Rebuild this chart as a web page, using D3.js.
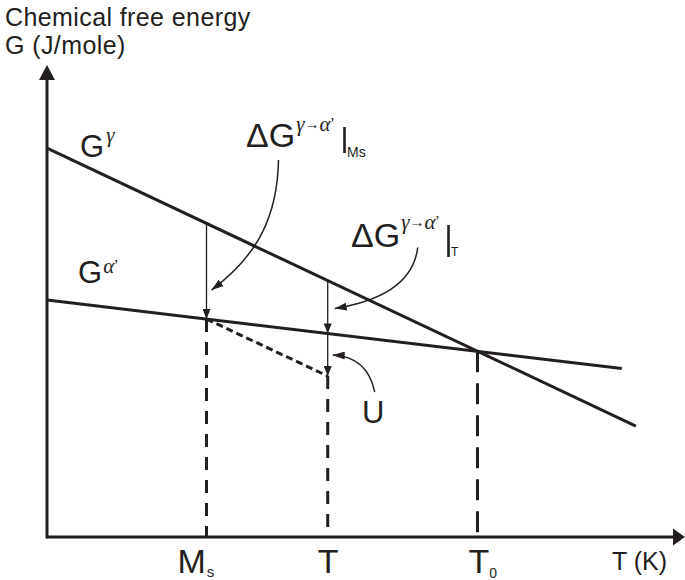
<!DOCTYPE html>
<html>
<head>
<meta charset="utf-8">
<script src="https://cdn.jsdelivr.net/npm/d3@7"></script>
<style>
  html, body { margin: 0; padding: 0; background: #fff; }
  svg { display: block; }
</style>
</head>
<body>
<svg id="chart" width="685" height="580"></svg>
<script>
// Axis domains (arbitrary units)
const tempDomain = [0, 100];
const energyDomain = [0, 100];

// Free-energy lines of the two phases: end-point temperatures and energies
const gammaT = [0, 92.3];
const gammaG = [82.4, 23.5];
const alphaT = [0, 90.1];
const alphaG = [50.2, 35.7];

// Characteristic temperatures on the T axis
const msTemp = 25;
const tTemp = 44;
// Energy level U reached at T along the path that starts at M_s
const uEnergy = 34.1;

const INK = "#231f20";
const SANS = "'Liberation Sans', Arial, Helvetica, sans-serif";
const SERIF = "'Liberation Serif', 'Times New Roman', serif";

const svg = d3.select("#chart");
const x = d3.scaleLinear().domain(tempDomain).range([47, 685]);
const y = d3.scaleLinear().domain(energyDomain).range([537, 65]);

// linear free-energy function through two end points
const lineFn = (ts, gs) => d3.scaleLinear().domain(ts).range(gs);
const gGamma = lineFn(gammaT, gammaG);
const gAlpha = lineFn(alphaT, alphaG);

// T0: where the two free-energy lines cross
const slopeG = (gammaG[1] - gammaG[0]) / (gammaT[1] - gammaT[0]);
const slopeA = (alphaG[1] - alphaG[0]) / (alphaT[1] - alphaT[0]);
const t0Temp = (alphaG[0] - gammaG[0]) / (slopeG - slopeA);
const g0 = gGamma(t0Temp);

// Arrowhead markers
const defs = svg.append("defs");
function addMarker(id, len, wid) {
  defs.append("marker")
    .attr("id", id)
    .attr("viewBox", `0 0 ${len} ${wid}`)
    .attr("refX", len).attr("refY", wid / 2)
    .attr("markerWidth", len).attr("markerHeight", wid)
    .attr("markerUnits", "userSpaceOnUse")
    .attr("orient", "auto")
    .append("path")
    .attr("d", `M0,0L${len},${wid / 2}L0,${wid}Z`)
    .attr("fill", INK);
}
addMarker("headThin", 10, 8);
addMarker("headCurve", 12, 8);

const line = d3.line();

// Axes with arrow tips
const axes = svg.append("g");
axes.append("path")
  .attr("d", line([[x(0), y(0)], [x(tempDomain[1]) - 10, y(0)]]))
  .attr("stroke", INK).attr("stroke-width", 3).attr("fill", "none");
axes.append("path")
  .attr("d", `M${x(tempDomain[1])},${y(0)}L${x(tempDomain[1]) - 12},${y(0) - 8.5}L${x(tempDomain[1]) - 12},${y(0) + 8.5}Z`)
  .attr("fill", INK);
axes.append("path")
  .attr("d", line([[x(0), y(0) + 1.5], [x(0), y(energyDomain[1]) + 12]]))
  .attr("stroke", INK).attr("stroke-width", 3).attr("fill", "none");
axes.append("path")
  .attr("d", `M${x(0)},${y(energyDomain[1])}L${x(0) - 8},${y(energyDomain[1]) + 15}L${x(0) + 8},${y(energyDomain[1]) + 15}Z`)
  .attr("fill", INK);

// Free-energy lines
const plot = svg.append("g");
plot.append("path")
  .attr("d", line(gammaT.map((t, i) => [x(t), y(gammaG[i])])))
  .attr("stroke", INK).attr("stroke-width", 3).attr("fill", "none");
plot.append("path")
  .attr("d", line(alphaT.map((t, i) => [x(t), y(alphaG[i])])))
  .attr("stroke", INK).attr("stroke-width", 3).attr("fill", "none");

// Dashed drops to the temperature axis
const drops = [
  { t: msTemp, g: gAlpha(msTemp), dash: "13,10", end: 0 },
  { t: tTemp, g: uEnergy, dash: "13,10", end: 0 },
  { t: t0Temp, g: g0, dash: "21,11", end: 0 }
];
plot.selectAll("path.drop").data(drops).join("path")
  .attr("class", "drop")
  .attr("d", d => line([[x(d.t), y(d.g)], [x(d.t), y(d.end)]]))
  .attr("stroke", INK).attr("stroke-width", 3)
  .attr("stroke-dasharray", d => d.dash)
  .attr("fill", "none");

// Dashed path from M_s on the alpha' line to U at T
plot.append("path")
  .attr("d", line([[x(msTemp), y(gAlpha(msTemp))], [x(tTemp), y(uEnergy)]]))
  .attr("stroke", INK).attr("stroke-width", 3)
  .attr("stroke-dasharray", "7,4").attr("fill", "none");

// Thin vertical driving-force arrows
const drives = [
  { t: msTemp, from: gGamma(msTemp), to: gAlpha(msTemp) },
  { t: tTemp, from: gGamma(tTemp), to: gAlpha(tTemp) },
  { t: tTemp, from: gAlpha(tTemp), to: uEnergy }
];
plot.selectAll("path.drive").data(drives).join("path")
  .attr("class", "drive")
  .attr("d", d => line([[x(d.t), y(d.from)], [x(d.t), y(d.to)]]))
  .attr("stroke", INK).attr("stroke-width", 1.3)
  .attr("fill", "none")
  .attr("marker-end", "url(#headThin)");

// Curved pointer arrows from the labels
const pMs = [x(msTemp), y(gAlpha(msTemp))];
const pT = [x(tTemp), y(gAlpha(tTemp))];
const pU = [x(tTemp), y(uEnergy)];
const pointers = [
  `M${pMs[0] + 72},${pMs[1] - 159} C${pMs[0] + 71},${pMs[1] - 104} ${pMs[0] + 52},${pMs[1] - 64} ${pMs[0] + 5},${pMs[1] - 29}`,
  `M${pT[0] + 90},${pT[1] - 86} C${pT[0] + 86},${pT[1] - 53} ${pT[0] + 57},${pT[1] - 33} ${pT[0] + 7},${pT[1] - 25}`,
  `M${pU[0] + 47},${pU[1] + 16} C${pU[0] + 42},${pU[1] - 8} ${pU[0] + 27},${pU[1] - 20} ${pU[0] + 5},${pU[1] - 21}`
];
plot.selectAll("path.pointer").data(pointers).join("path")
  .attr("class", "pointer")
  .attr("d", d => d)
  .attr("stroke", INK).attr("stroke-width", 1.5)
  .attr("fill", "none")
  .attr("marker-end", "url(#headCurve)");

// Text
const txt = svg.append("g").attr("fill", INK).attr("font-family", SANS);

txt.append("text").attr("x", 5).attr("y", 26).attr("font-size", 25)
  .attr("letter-spacing", 0.4).text("Chemical free energy");
txt.append("text").attr("x", 5).attr("y", 54).attr("font-size", 25)
  .attr("letter-spacing", 0.4).text("G (J/mole)");

// phase labels
const gG = txt.append("text").attr("x", 80).attr("y", 157);
gG.append("tspan").attr("font-size", 31).text("G");
gG.append("tspan").attr("font-size", 21).attr("font-family", SERIF).attr("font-style", "italic")
  .attr("dx", 2).attr("dy", -15).text("γ");

const gA = txt.append("text").attr("x", 78).attr("y", 283);
gA.append("tspan").attr("font-size", 31).text("G");
gA.append("tspan").attr("font-size", 21).attr("font-family", SERIF).attr("font-style", "italic")
  .attr("dx", 1).attr("dy", -10).text("α");
gA.append("tspan").attr("font-size", 17).attr("dx", 0).attr("dy", -1).text("’");

// driving-force labels: ΔG with an "evaluated at" bar and subscript
function deltaLabel(x0, y0, supDy, barX, barTop, barBottom, subText, subX, subY, subSize) {
  const t = txt.append("text").attr("x", x0).attr("y", y0);
  t.append("tspan").attr("font-size", 34).text("ΔG");
  t.append("tspan").attr("font-size", 21).attr("font-family", SERIF).attr("font-style", "italic")
    .attr("dx", 1).attr("dy", supDy).text("γ");
  t.append("tspan").attr("font-size", 15).attr("font-family", SERIF).attr("dy", -2).text("→");
  t.append("tspan").attr("font-size", 21).attr("font-family", SERIF).attr("font-style", "italic")
    .attr("dy", 2).text("α");
  t.append("tspan").attr("font-size", 17).attr("dy", -1).text("’");
  svg.append("line")
    .attr("x1", barX).attr("x2", barX).attr("y1", barTop).attr("y2", barBottom)
    .attr("stroke", INK).attr("stroke-width", 2.6);
  txt.append("text").attr("x", subX).attr("y", subY).attr("font-size", subSize).text(subText);
}
deltaLabel(246, 147, -16, 344.5, 127, 153, "Ms", 347, 157, 14);
deltaLabel(351, 247, -18, 448.5, 225, 257, "T", 451, 256, 12);

txt.append("text").attr("x", 362).attr("y", 423).attr("font-size", 31).text("U");

// temperature labels under the axis
const tl = txt.append("g");
const ms = tl.append("text").attr("x", x(msTemp) - 29).attr("y", 573);
ms.append("tspan").attr("font-size", 34).text("M");
ms.append("tspan").attr("font-size", 15).attr("dx", 1).attr("dy", 4).text("s");

tl.append("text").attr("x", x(tTemp) - 10).attr("y", 573).attr("font-size", 34).text("T");

const t0 = tl.append("text").attr("x", x(t0Temp) - 9).attr("y", 573);
t0.append("tspan").attr("font-size", 34).text("T");
t0.append("tspan").attr("font-size", 14).attr("dx", 0).attr("dy", 5).text("0");

tl.append("text").attr("x", 612).attr("y", 570).attr("font-size", 25).text("T (K)");
</script>
</body>
</html>
